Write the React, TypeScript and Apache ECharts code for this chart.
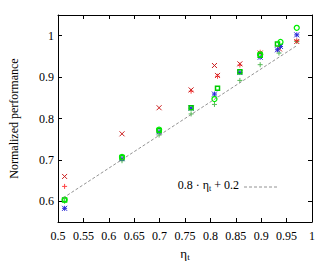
import React, { useEffect, useRef } from "react";
import * as echarts from "echarts";

const xTicks = [0.5, 0.55, 0.6, 0.65, 0.7, 0.75, 0.8, 0.85, 0.9, 0.95, 1];
const yTicks = [0.6, 0.7, 0.8, 0.9, 1];

const redCross: [number, number][] = [
  [0.513, 0.66], [0.626, 0.763], [0.699, 0.826], [0.762, 0.869], [0.808, 0.928],
  [0.814, 0.904], [0.858, 0.932], [0.898, 0.958], [0.936, 0.968], [0.97, 0.986],
];
const redPlus: [number, number][] = [
  [0.513, 0.636], [0.762, 0.866], [0.814, 0.902], [0.858, 0.929], [0.898, 0.96], [0.97, 0.988],
];
const blueStar: [number, number][] = [
  [0.513, 0.583], [0.626, 0.703], [0.699, 0.768], [0.762, 0.825], [0.808, 0.859],
  [0.858, 0.911], [0.898, 0.948], [0.932, 0.966], [0.938, 0.974], [0.97, 1.002],
];
const greenSquare: [number, number][] = [
  [0.513, 0.603], [0.626, 0.706], [0.699, 0.771], [0.762, 0.826], [0.814, 0.873],
  [0.858, 0.913], [0.898, 0.953], [0.932, 0.98],
];
const greenCircle: [number, number][] = [
  [0.513, 0.604], [0.626, 0.707], [0.699, 0.773], [0.808, 0.847], [0.898, 0.955],
  [0.938, 0.985], [0.97, 1.019],
];
const greenPlus: [number, number][] = [
  [0.513, 0.6], [0.626, 0.698], [0.699, 0.76], [0.762, 0.811], [0.808, 0.834],
  [0.858, 0.892], [0.898, 0.93], [0.935, 0.958], [0.97, 0.986],
];
const fitLine: [number, number][] = [
  [0.51, 0.8 * 0.51 + 0.2],
  [0.97, 0.8 * 0.97 + 0.2],
];

const FONT = "'Liberation Serif', 'DejaVu Serif', serif";
const CROSS = "path://M0,0L10,10M10,0L0,10";
const PLUS = "path://M5,0L5,10M0,5L10,5";
const STAR = "path://M0,0L10,10M10,0L0,10M5,0L5,10M0,5L10,5";

function scatter(data: [number, number][], symbol: string, color: string, size: number, bw = 1) {
  return {
    type: "scatter",
    data,
    symbol,
    symbolSize: size,
    itemStyle: { color: "transparent", borderColor: color, borderWidth: bw, opacity: 1 },
    emphasis: { disabled: true },
  };
}

export default function App() {
  const ref = useRef<HTMLDivElement>(null);
  useEffect(() => {
    const chart = echarts.init(ref.current!, undefined, { renderer: "svg" });
    const axisCommon = {
      min: 0.5,
      max: 1,
      interval: 0.05,
      axisLine: { show: true, lineStyle: { color: "#000", width: 1 } },
      axisTick: { show: true, inside: true, length: 4, lineStyle: { color: "#000" } },
      splitLine: { show: false },
    };
    const yCommon = {
      min: 0.55,
      max: 1.05,
      axisLine: { show: true, lineStyle: { color: "#000", width: 1 } },
      axisTick: { show: true, inside: true, length: 4, customValues: yTicks, lineStyle: { color: "#000" } },
      splitLine: { show: false },
    };
    chart.setOption({
      animation: false,
      grid: { left: 52, top: 15, right: 22, bottom: 53 },
      xAxis: [
        {
          ...axisCommon,
          type: "value",
          position: "bottom",
          axisLabel: {
            fontFamily: FONT,
            fontSize: 12,
            color: "#000",
            margin: 8,
            formatter: (v: number) => {
              const m = xTicks.find((t) => Math.abs(t - v) < 1e-6);
              return m === undefined ? "" : String(m);
            },
          },
          name: "{a|η}{b|t}",
          nameLocation: "middle",
          nameGap: 22,
          nameTextStyle: {
            rich: {
              a: { fontFamily: FONT, fontSize: 13, color: "#000" },
              b: { fontFamily: FONT, fontSize: 9, color: "#000", padding: [8, 0, 0, 0] },
            },
          },
        },
        { ...axisCommon, type: "value", position: "top", axisLabel: { show: false } },
      ],
      yAxis: [
        {
          ...yCommon,
          type: "value",
          position: "left",
          axisLabel: {
            customValues: yTicks,
            fontFamily: FONT,
            fontSize: 12,
            color: "#000",
            margin: 4,
            formatter: (v: number) => String(Math.round(v * 10) / 10),
          },
          name: "Normalized performance",
          nameLocation: "middle",
          nameGap: 38,
          nameTextStyle: { fontFamily: FONT, fontSize: 12, color: "#000" },
        },
        { ...yCommon, type: "value", position: "right", axisLabel: { show: false } },
      ],
      series: [
        {
          type: "line",
          data: fitLine,
          symbol: "none",
          lineStyle: { color: "#777", width: 0.8, type: [3, 2] },
          emphasis: { disabled: true },
        },
        scatter(greenPlus, PLUS, "#55bb55", 5),
        scatter(redPlus, PLUS, "#ff4444", 5),
        scatter(redCross, CROSS, "#cc2020", 5),
        scatter(blueStar, STAR, "#2a2ad8", 5),
        scatter(greenSquare, "rect", "#00cc00", 4, 1.5),
        scatter(greenCircle, "circle", "#00ee00", 5, 1.3),
      ],
      graphic: [
        {
          type: "text",
          right: 334 - 239,
          top: 179,
          style: {
            text: "{a|0.8 · η}{s|t}{a| + 0.2}",
            rich: {
              a: { fontFamily: FONT, fontSize: 12, fill: "#000" },
              s: { fontFamily: FONT, fontSize: 8, fill: "#000", padding: [7, 0, 0, 0] },
            },
          },
        },
        {
          type: "line",
          shape: { x1: 244, y1: 187, x2: 279, y2: 187 },
          style: { stroke: "#777", lineWidth: 0.8, lineDash: [3, 2] },
        },
      ],
    });
    return () => chart.dispose();
  }, []);
  return <div ref={ref} style={{ width: 334, height: 275, margin: -8 }} />;
}
